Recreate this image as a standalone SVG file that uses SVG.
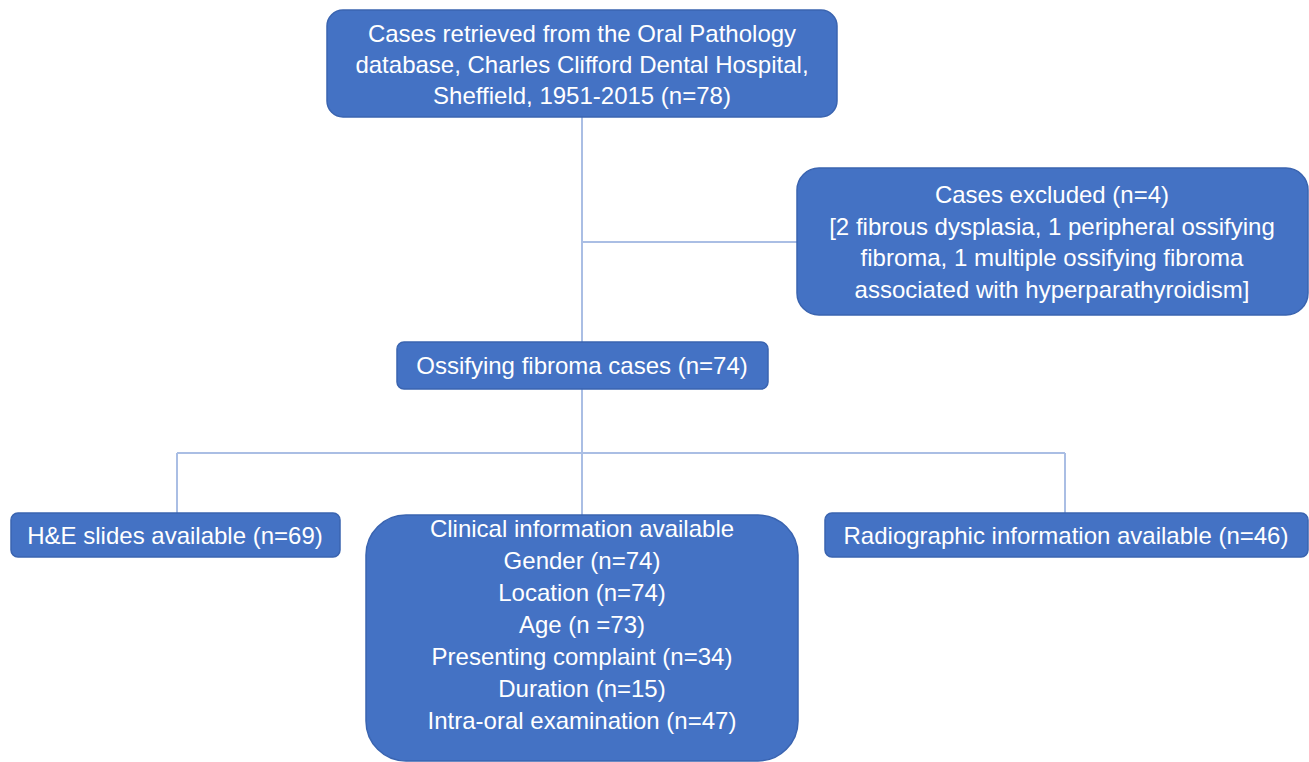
<svg xmlns="http://www.w3.org/2000/svg" width="1309" height="762" viewBox="0 0 1309 762">
<style>
.box{fill:#4472C4;stroke:#3A64B0;stroke-width:1.5}
.t{font-family:"Liberation Sans",Arial,sans-serif;font-size:24px;fill:#FFFFFF;text-anchor:middle}
.c{stroke:#AABEE4;stroke-width:2;fill:none}
</style>
<rect width="1309" height="762" fill="#FFFFFF"/>
<g id="connectors">
<line class="c" x1="582" y1="117" x2="582" y2="342"/>
<line class="c" x1="582" y1="242" x2="797" y2="242"/>
<line class="c" x1="582" y1="389" x2="582" y2="515"/>
<line class="c" x1="177" y1="453" x2="1065" y2="453"/>
<line class="c" x1="177" y1="453" x2="177" y2="513"/>
<line class="c" x1="1065" y1="453" x2="1065" y2="513"/>
</g>
<g id="n1">
<rect class="box" x="327" y="10" width="510" height="107" rx="16"/>
<text class="t" x="582" y="42">Cases retrieved from the Oral Pathology</text>
<text class="t" x="582" y="73">database, Charles Clifford Dental Hospital,</text>
<text class="t" x="582" y="104">Sheffield, 1951-2015 (n=78)</text>
</g>
<g id="n2">
<rect class="box" x="797" y="168" width="511" height="147" rx="22"/>
<text class="t" x="1052" y="203">Cases excluded (n=4)</text>
<text class="t" x="1052" y="235">[2 fibrous dysplasia, 1 peripheral ossifying</text>
<text class="t" x="1052" y="266">fibroma, 1 multiple ossifying fibroma</text>
<text class="t" x="1052" y="298">associated with hyperparathyroidism]</text>
</g>
<g id="n3">
<rect class="box" x="397" y="342" width="371" height="47" rx="7"/>
<text class="t" x="582" y="374">Ossifying fibroma cases (n=74)</text>
</g>
<g id="n4">
<rect class="box" x="11" y="513" width="329" height="44" rx="7"/>
<text class="t" x="175" y="544">H&amp;E slides available (n=69)</text>
</g>
<g id="n5">
<rect class="box" x="366" y="515" width="432" height="246" rx="40"/>
<text class="t" x="582" y="537">Clinical information available</text>
<text class="t" x="582" y="569">Gender (n=74)</text>
<text class="t" x="582" y="601">Location (n=74)</text>
<text class="t" x="582" y="633">Age (n =73)</text>
<text class="t" x="582" y="665">Presenting complaint (n=34)</text>
<text class="t" x="582" y="697">Duration (n=15)</text>
<text class="t" x="582" y="729">Intra-oral examination (n=47)</text>
</g>
<g id="n6">
<rect class="box" x="825" y="513" width="483" height="44" rx="7"/>
<text class="t" x="1066" y="544">Radiographic information available (n=46)</text>
</g>
</svg>
